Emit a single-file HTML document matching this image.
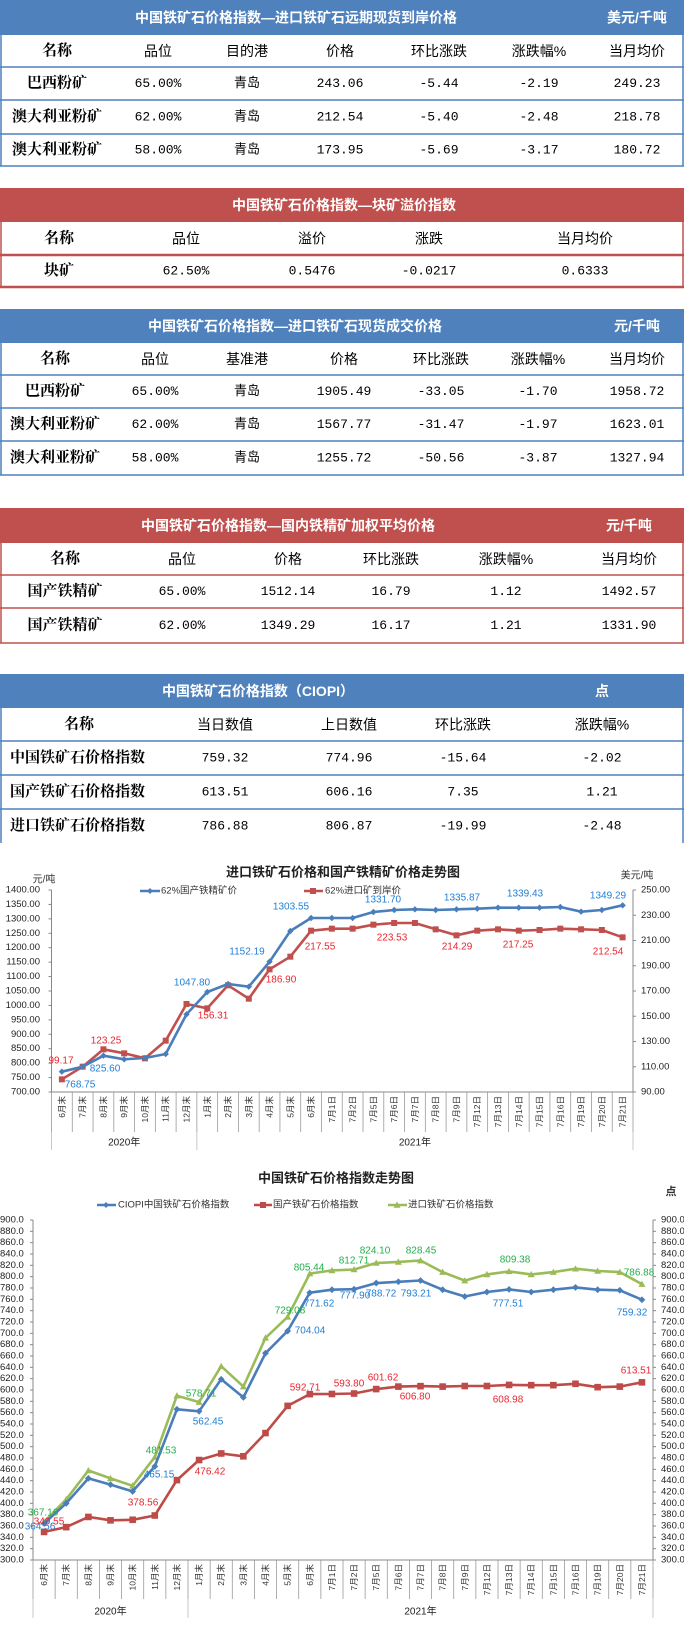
<!DOCTYPE html>
<html><head><meta charset="utf-8">
<style>
html,body{margin:0;padding:0;background:#fff;width:684px;height:1627px;overflow:hidden}
svg{display:block}
</style></head>
<body>
<svg id="s" xmlns="http://www.w3.org/2000/svg" width="684" height="1627" viewBox="0 0 684 1627"></svg>
<script>
var S=document.getElementById('s');var out=[];
var CJ='"Liberation Sans","Noto Sans CJK SC",sans-serif';
var CS='"Liberation Serif","Noto Serif CJK SC",serif';
var MO='"Liberation Mono","Noto Sans CJK SC",monospace';
function T(x,y,t,o){o=o||{};out.push('<text x="'+x+'" y="'+y+'" font-family=\''+(o.f||CJ)+'\' font-size="'+(o.s||13)+'" fill="'+(o.c||'#000')+'" text-anchor="'+(o.a||'middle')+'" dominant-baseline="central"'+(o.w?' font-weight="'+o.w+'"':'')+(o.tr?' transform="'+o.tr+'"':'')+'>'+t+'</text>');}
function R(x,y,w,h,c){out.push('<rect x="'+x+'" y="'+y+'" width="'+w+'" height="'+h+'" fill="'+c+'"/>');}
function L(x1,y1,x2,y2,c,w){out.push('<line x1="'+x1+'" y1="'+y1+'" x2="'+x2+'" y2="'+y2+'" stroke="'+c+'" stroke-width="'+(w||1)+'"/>');}
var B='#4F81BD',RD='#C0504D';
function table(o){
  var c=o.c;R(0,o.top,684,o.bar,c);
  T(o.tx,o.top+o.bar/2,o.title,{c:'#fff',w:'bold',s:14});
  if(o.unit)T(o.ux,o.top+o.bar/2,o.unit,{c:'#fff',w:'bold',s:14});
  var bot=o.seps[o.seps.length-1];
  L(1,o.top,1,o.end||bot,c,1.5);L(683,o.top,683,o.end||bot,c,1.5);
  var prev=o.top+o.bar;
  o.hd.forEach(function(h,i){T(o.xs[i],(prev+o.seps[0])/2,h,{s:i==0?15:14,w:i==0?'bold':null,f:i==0?CS:CJ});});
  o.seps.forEach(function(y,k){ if(!(o.end&&k==o.seps.length-1&&o.nobot))L(0,y,684,y,c,o.lw||1.5);});
  o.rows.forEach(function(r,k){var y=(o.seps[k]+o.seps[k+1])/2;
    r.forEach(function(v,i){ if(i==0){ if(o.left)T(10,y,v,{a:'start',w:'bold',s:15,f:CS}); else T(o.xs[0],y,v,{w:'bold',s:15,f:CS}); } else T(o.xs[i],y,v,{f:MO,s:13}); });});
}
table({c:B,top:0,bar:35,title:'中国铁矿石价格指数—进口铁矿石远期现货到岸价格',tx:296,unit:'美元/千吨',ux:637,
 xs:[57,158,247,340,439,539,637],hd:['名称','品位','目的港','价格','环比涨跌','涨跌幅%','当月均价'],seps:[67,100,134,166],
 rows:[['巴西粉矿','65.00%','青岛','243.06','-5.44','-2.19','249.23'],['澳大利亚粉矿','62.00%','青岛','212.54','-5.40','-2.48','218.78'],['澳大利亚粉矿','58.00%','青岛','173.95','-5.69','-3.17','180.72']]});
table({c:RD,top:188,bar:34,title:'中国铁矿石价格指数—块矿溢价指数',tx:344,
 xs:[59,186,312,429,585],hd:['名称','品位','溢价','涨跌','当月均价'],seps:[255,287],lw:2.5,
 rows:[['块矿','62.50%','0.5476','-0.0217','0.6333']]});
table({c:B,top:309,bar:34,title:'中国铁矿石价格指数—进口铁矿石现货成交价格',tx:295,unit:'元/千吨',ux:637,
 xs:[55,155,247,344,441,538,637],hd:['名称','品位','基准港','价格','环比涨跌','涨跌幅%','当月均价'],seps:[375,408,441,475],
 rows:[['巴西粉矿','65.00%','青岛','1905.49','-33.05','-1.70','1958.72'],['澳大利亚粉矿','62.00%','青岛','1567.77','-31.47','-1.97','1623.01'],['澳大利亚粉矿','58.00%','青岛','1255.72','-50.56','-3.87','1327.94']]});
table({c:RD,top:508,bar:35,title:'中国铁矿石价格指数—国内铁精矿加权平均价格',tx:288,unit:'元/千吨',ux:629,
 xs:[65,182,288,391,506,629],hd:['名称','品位','价格','环比涨跌','涨跌幅%','当月均价'],seps:[575,608,643],
 rows:[['国产铁精矿','65.00%','1512.14','16.79','1.12','1492.57'],['国产铁精矿','62.00%','1349.29','16.17','1.21','1331.90']]});
table({c:B,top:674,bar:34,title:'中国铁矿石价格指数（CIOPI）',tx:258,unit:'点',ux:602,left:true,
 xs:[79,225,349,463,602],hd:['名称','当日数值','上日数值','环比涨跌','涨跌幅%'],seps:[741,775,809,843],end:843,nobot:true,
 rows:[['中国铁矿石价格指数','759.32','774.96','-15.64','-2.02'],['国产铁矿石价格指数','613.51','606.16','7.35','1.21'],['进口铁矿石价格指数','786.88','806.87','-19.99','-2.48']]});

var cats=['6月末','7月末','8月末','9月末','10月末','11月末','12月末','1月末','2月末','3月末','4月末','5月末','6月末','7月1日','7月2日','7月5日','7月6日','7月7日','7月8日','7月9日','7月12日','7月13日','7月14日','7月15日','7月16日','7月19日','7月20日','7月21日'];
function diamond(x,y,c,r){out.push('<polygon points="'+x+','+(y-r)+' '+(x+r)+','+y+' '+x+','+(y+r)+' '+(x-r)+','+y+'" fill="'+c+'"/>');}
function sq(x,y,c,r){R(x-r,y-r,2*r,2*r,c);}
function tri(x,y,c,r){out.push('<polygon points="'+x+','+(y-r)+' '+(x+r)+','+(y+r*0.8)+' '+(x-r)+','+(y+r*0.8)+'" fill="'+c+'"/>');}
function series(xs,ys,c,mk,r){var p=xs.map(function(x,i){return x.toFixed(1)+','+ys[i].toFixed(1)}).join(' ');
 out.push('<polyline points="'+p+'" fill="none" stroke="'+c+'" stroke-width="2.6" stroke-linejoin="round"/>');xs.forEach(function(x,i){mk(x,ys[i],c,r)});}
function catAxis(x0,x1,yA,ySep,yEnd,yYear,fs){var st=(x1-x0)/28;L(x0,yA,x1,yA,'#888',1);
 for(var i=0;i<=28;i++)L(x0+i*st,yA,x0+i*st,ySep,'#999',0.8);
 L(x0,ySep,x0,yEnd,'#bbb',0.8);L(x0+7*st,ySep,x0+7*st,yEnd,'#bbb',0.8);L(x1,ySep,x1,yEnd,'#bbb',0.8);
 cats.forEach(function(t,i){var x=x0+(i+0.5)*st,y=yA+4;out.push('<text x="'+x+'" y="'+y+'" font-family=\''+CJ+'\' font-size="'+fs+'" fill="#333" text-anchor="end" dominant-baseline="central" transform="rotate(-90 '+x+' '+y+')">'+t+'</text>');});
 T(x0+3.5*st,yYear,'2020年',{s:10,c:'#222'});T(x0+17.5*st,yYear,'2021年',{s:10,c:'#222'});
}
// ===== chart 1
T(343,872,'进口铁矿石价格和国产铁精矿价格走势图',{s:13,w:'bold',c:'#222'});
T(44,880,'元/吨',{s:10,c:'#333'});T(637,876,'美元/吨',{s:10,c:'#333'});
var c1x0=51.5,c1x1=633;L(c1x0,890,c1x0,1092,'#888');L(c1x1,890,c1x1,1092,'#888');
for(var v=700;v<=1400;v+=50){var y=890+(1400-v)*202/700;T(40,y,v.toFixed(2),{a:'end',s:9.5,c:'#222'});L(c1x0-3,y,c1x0,y,'#888');}
for(var v=90;v<=250;v+=20){var y=890+(250-v)*202/160;T(641,y,v.toFixed(2),{a:'start',s:9.5,c:'#222'});L(c1x1,y,c1x1+3,y,'#888');}
catAxis(c1x0,c1x1,1092,1132,1150,1143,8.5);
var st1=(c1x1-c1x0)/28,xs1=cats.map(function(_,i){return c1x0+(i+0.5)*st1});
var bz=[725,710,677,688,684,672,553,486,462,470,395,303,264,264,264,246,240,238,240,238,236,233,233,233,231,245,240,226];
var rz=[748,710,658,670,685,632,522,535,466,506,418,380,302,296,296,284,279,279,298,316,302,298,302,300,296,298,300,322];
series(xs1,rz.map(function(z){return 830+z/3}),'#C0504D',sq,3);
series(xs1,bz.map(function(z){return 830+z/3}),'#4A7EBB',diamond,3.2);
L(140,891,160,891,'#4A7EBB',2.5);diamond(150,891,'#4A7EBB',3);T(161,891,'62%国产铁精矿价',{a:'start',s:9.5,c:'#333'});
L(304,891,323,891,'#C0504D',2.5);sq(313,891,'#C0504D',3);T(325,891,'62%进口矿到岸价',{a:'start',s:9.5,c:'#333'});
var BL='#1F7FD6',RL='#E8262F',GL='#22B04A';
[['768.75',80,1085],['825.60',105,1069],['1047.80',192,983],['1152.19',247,952],['1303.55',291,907],['1331.70',383,900],['1335.87',462,898],['1339.43',525,894],['1349.29',608,896]].forEach(function(a){T(a[1],a[2],a[0],{s:10,c:BL})});
[['99.17',61,1061],['123.25',106,1041],['156.31',213,1016],['186.90',281,980],['217.55',320,947],['223.53',392,938],['214.29',457,947],['217.25',518,945],['212.54',608,952]].forEach(function(a){T(a[1],a[2],a[0],{s:10,c:RL})});
// ===== chart 2
T(336,1178,'中国铁矿石价格指数走势图',{s:13,w:'bold',c:'#222'});T(671,1192,'点',{s:11,w:'bold',c:'#333'});
var c2x0=33,c2x1=653,yt=1220,yb=1560;L(c2x0,yt,c2x0,yb,'#888');L(c2x1,yt,c2x1,yb,'#888');
function y2(v){return yt+(900-v)*(yb-yt)/600}
for(var v=300;v<=900;v+=20){var y=y2(v);T(0,y,v.toFixed(1),{a:'start',s:9.5,c:'#222'});T(661,y,v.toFixed(1),{a:'start',s:9.5,c:'#222'});L(c2x0-3,y,c2x0,y,'#888');L(c2x1,y,c2x1+3,y,'#888');}
catAxis(c2x0,c2x1,yb,1599,1618,1612,8.5);
var st2=(c2x1-c2x0)/28,xs2=cats.map(function(_,i){return c2x0+(i+0.5)*st2});
var bv=[364.56,400,444,433,421,465.15,566,562.45,619,587,665,704.04,771.62,777,777.9,788.72,791,793.21,777,765,773,777.51,773,777,781,777,776,759.32];
var rv=[349.55,358,376,370,371,378.56,441,476.42,488,483,524,572,592.71,593,593.8,601.62,606,606.8,606,607,607,608.98,608.5,608.5,611,605,606,613.51];
var gv=[367.16,407,458,444,431,481.53,590,578.71,642,606,692,729.08,805.44,811,812.71,824.1,826,828.45,808,793,804,809.38,804,808,814,810,808,786.88];
series(xs2,gv.map(y2),'#9BBB59',tri,3.5);
series(xs2,bv.map(y2),'#4A7EBB',diamond,3.4);
series(xs2,rv.map(y2),'#BE4B48',sq,3.3);
L(97,1205,116,1205,'#4A7EBB',2.5);diamond(106,1205,'#4A7EBB',3);T(118,1205,'CIOPI中国铁矿石价格指数',{a:'start',s:9.5,c:'#333'});
L(254,1205,272,1205,'#BE4B48',2.5);sq(263,1205,'#BE4B48',3);T(273,1205,'国产铁矿石价格指数',{a:'start',s:9.5,c:'#333'});
L(388,1205,407,1205,'#9BBB59',2.5);tri(397,1205,'#9BBB59',3.5);T(408,1205,'进口铁矿石价格指数',{a:'start',s:9.5,c:'#333'});
[['367.16',43,1513],['481.53',161,1451],['578.71',201,1394],['729.08',290,1311],['805.44',309,1268],['812.71',354,1261],['824.10',375,1251],['828.45',421,1251],['809.38',515,1260],['786.88',639,1273]].forEach(function(a){T(a[1],a[2],a[0],{s:10,c:GL})});
[['364.56',40,1527],['465.15',159,1475],['562.45',208,1422],['704.04',310,1331],['771.62',319,1304],['777.90',355,1296],['788.72',381,1294],['793.21',416,1294],['777.51',508,1304],['759.32',632,1313]].forEach(function(a){T(a[1],a[2],a[0],{s:10,c:BL})});
[['349.55',49,1522],['378.56',143,1503],['476.42',210,1472],['592.71',305,1388],['593.80',349,1384],['601.62',383,1378],['606.80',415,1397],['608.98',508,1400],['613.51',636,1371]].forEach(function(a){T(a[1],a[2],a[0],{s:10,c:RL})});
S.innerHTML=out.join('');
</script>
</body></html>
